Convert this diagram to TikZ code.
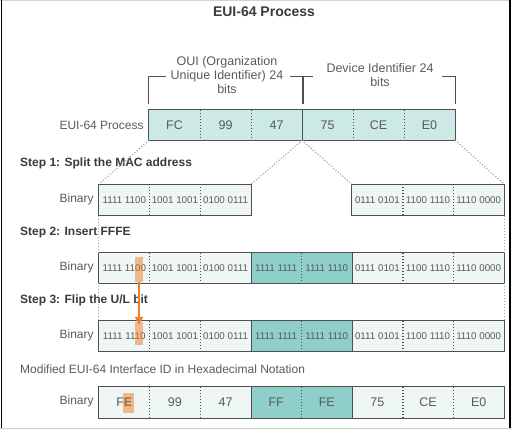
\documentclass[tikz,border=0pt]{standalone}
\usepackage{fontspec}
\setmainfont{Liberation Sans}
\usetikzlibrary{arrows.meta,calc}
\definecolor{tealL}{HTML}{CDE9E6}
\definecolor{tealP}{HTML}{EEF7F6}
\definecolor{tealD}{HTML}{8FCFC9}
\definecolor{org}{HTML}{F07D28}
\definecolor{txt}{HTML}{5A5A5A}
\definecolor{darktxt}{HTML}{3A3A3A}
\definecolor{ln}{HTML}{505050}
\tikzset{
 cell/.style={inner sep=0pt, minimum width=50.625pt, minimum height=31pt, text=txt, font=\fontsize{9.8}{11}\selectfont},
 hexcell/.style={cell, font=\fontsize{12.5}{14}\selectfont},
 hcell/.style={inner sep=0pt, minimum width=51pt, minimum height=30pt, fill=tealL, text=txt, font=\fontsize{12.5}{14}\selectfont},
 boxline/.style={draw=ln, line width=1pt},
 divline/.style={draw=ln, line width=1.1pt, dash pattern=on 1.1pt off 1.9pt},
 guide/.style={draw=gray!75, line width=1.1pt, dash pattern=on 1.1pt off 1.9pt},
 brk/.style={draw=ln, line width=1pt},
 lbl/.style={text=txt, font=\fontsize{12}{14}\selectfont, inner sep=0pt},
 steplbl/.style={text=darktxt, font=\bfseries\fontsize{12}{14}\selectfont, anchor=west, inner sep=0pt},
 hl/.style={fill=org, fill opacity=0.5, inner sep=0pt},
}
\begin{document}
\begin{tikzpicture}[x=1pt,y=-1pt]
\useasboundingbox (0,0) rectangle (511,430);
% frame
\fill[gray!8] (0,428) rectangle (511,430);
\draw[gray!35, line width=1pt] (0,0.5) -- (511,0.5);
\draw[gray!35, line width=1pt] (0,428) -- (511,428);
\draw[black, line width=1.5pt] (1.5,0) -- (1.5,428);
\draw[black, line width=1.5pt] (510,0) -- (510,428);

% title
\node[text=darktxt, font=\bfseries\fontsize{14}{16}\selectfont, inner sep=0pt] (title) at (264,12) {EUI-64 Process};

% top row
\foreach \c/\t in {1/FC,2/99,3/47,4/75,5/CE,6/E0} {
  \node[hcell] (t\c) at ({149+51*(\c-0.5)},125) {\t};
}
\draw[boxline] (t1.north west) rectangle (t6.south east);
\foreach \c in {1,2,4,5} {\draw[divline] (t\c.north east) -- (t\c.south east);}
\draw[boxline] (t3.north east) -- (t3.south east);
\node[lbl, anchor=east] (toplbl) at ($(t1.west)+(-5,0)$) {EUI-64 Process};

% brackets
\node[lbl, align=center, font=\fontsize{12.5}{14}\selectfont] (oui) at (227,75) {OUI (Organization\\Unique Identifier) 24\\bits};
\node[lbl, align=center, font=\fontsize{12.5}{14}\selectfont] (dev) at (380,75) {Device Identifier 24\\bits};
\draw[brk] ($(t1.north west)+(0,-6)$) |- ($(t1.north west)+(17,-33)$);
\draw[brk] ($(t3.north east)+(-12,-33)$) -| ($(t3.north east)+(0,-6)$);
\draw[brk] ($(t4.north west)+(2,-6)$) |- ($(t4.north west)+(11,-33)$);
\draw[brk] ($(t6.north east)+(-13,-33)$) -| ($(t6.north east)+(0,-6)$);

% step labels
\node[steplbl] (s1) at (20,163) {Step 1: Split the MAC address};
\node[steplbl] (s2) at (20,233) {Step 2: Insert FFFE};
\node[steplbl] (s3) at (20,300) {Step 3: Flip the U/L bit};
\node[lbl, anchor=west] (s4) at (20,369) {Modified EUI-64 Interface ID in Hexadecimal Notation};

% row 1
\foreach \c/\t in {1/{1111 1100},2/{1001 1001},3/{0100 0111},6/{0111 0101},7/{1100 1110},8/{1110 0000}} {
  \node[cell, fill=tealP] (r1c\c) at ({99+50.625*(\c-0.5)},200) {\t};
}
\draw[boxline] (r1c1.north west) rectangle (r1c3.south east);
\draw[boxline] (r1c6.north west) rectangle (r1c8.south east);
\foreach \c in {1,2,6,7} {\draw[divline] (r1c\c.north east) -- (r1c\c.south east);}

% row 2
\foreach \c/\t/\f in {1/{1111 1100}/tealP,2/{1001 1001}/tealP,3/{0100 0111}/tealP,4/{1111 1111}/tealD,5/{1111 1110}/tealD,6/{0111 0101}/tealP,7/{1100 1110}/tealP,8/{1110 0000}/tealP} {
  \node[cell, fill=\f, minimum height=30pt] (r2c\c) at ({99+50.625*(\c-0.5)},268) {\t};
}
% row 3
\foreach \c/\t/\f in {1/{1111 1110}/tealP,2/{1001 1001}/tealP,3/{0100 0111}/tealP,4/{1111 1111}/tealD,5/{1111 1110}/tealD,6/{0111 0101}/tealP,7/{1100 1110}/tealP,8/{1110 0000}/tealP} {
  \node[cell, fill=\f, minimum height=30pt] (r3c\c) at ({99+50.625*(\c-0.5)},336) {\t};
}
% row 4
\foreach \c/\t/\f in {1/{F\textbf{E}}/tealP,2/99/tealP,3/47/tealP,4/FF/tealD,5/FE/tealD,6/75/tealP,7/CE/tealP,8/E0/tealP} {
  \node[hexcell, fill=\f, minimum height=31pt] (r4c\c) at ({99+50.625*(\c-0.5)},402.5) {\t};
}
\foreach \r in {2,3,4} {
  \draw[boxline] (r\r c1.north west) rectangle (r\r c8.south east);
  \foreach \c in {1,2,4,6,7} {\draw[divline] (r\r c\c.north east) -- (r\r c\c.south east);}
  \draw[boxline] (r\r c3.north east) -- (r\r c3.south east);
  \draw[boxline] (r\r c5.north east) -- (r\r c5.south east);
}

% Binary labels
\foreach \r in {1,2,3,4} {
  \node[lbl, anchor=east] (b\r) at ($(r\r c1.west)+(-5,-1)$) {Binary};
}

% guide lines
\draw[guide] (t1.south west) -- (r1c1.north west);
\draw[guide] (t3.south east) -- (r1c3.north east);
\draw[guide] (t4.south west) -- (r1c6.north west);
\draw[guide] (t6.south east) -- (r1c8.north east);
\draw[guide] (r1c1.south west) -- (r2c1.north west);
\draw[guide] (r2c1.south west) -- (r3c1.north west);
\draw[guide] (r1c8.south east) -- (r2c8.north east);
\draw[guide] (r2c8.south east) -- (r3c8.north east);

% highlights and arrow
\node[hl, minimum width=8pt, minimum height=25pt] (h2) at (139,269.5) {};
\node[hl, minimum width=8pt, minimum height=23pt] (h3) at (139,333.5) {};
\node[hl, minimum width=11pt, minimum height=20pt] (h4) at (128.5,403) {};
\draw[org, line width=2pt, -{Triangle[length=8pt,width=8pt]}] (h2.south) -- ([yshift=-3pt]h3.north);
\end{tikzpicture}
\end{document}
